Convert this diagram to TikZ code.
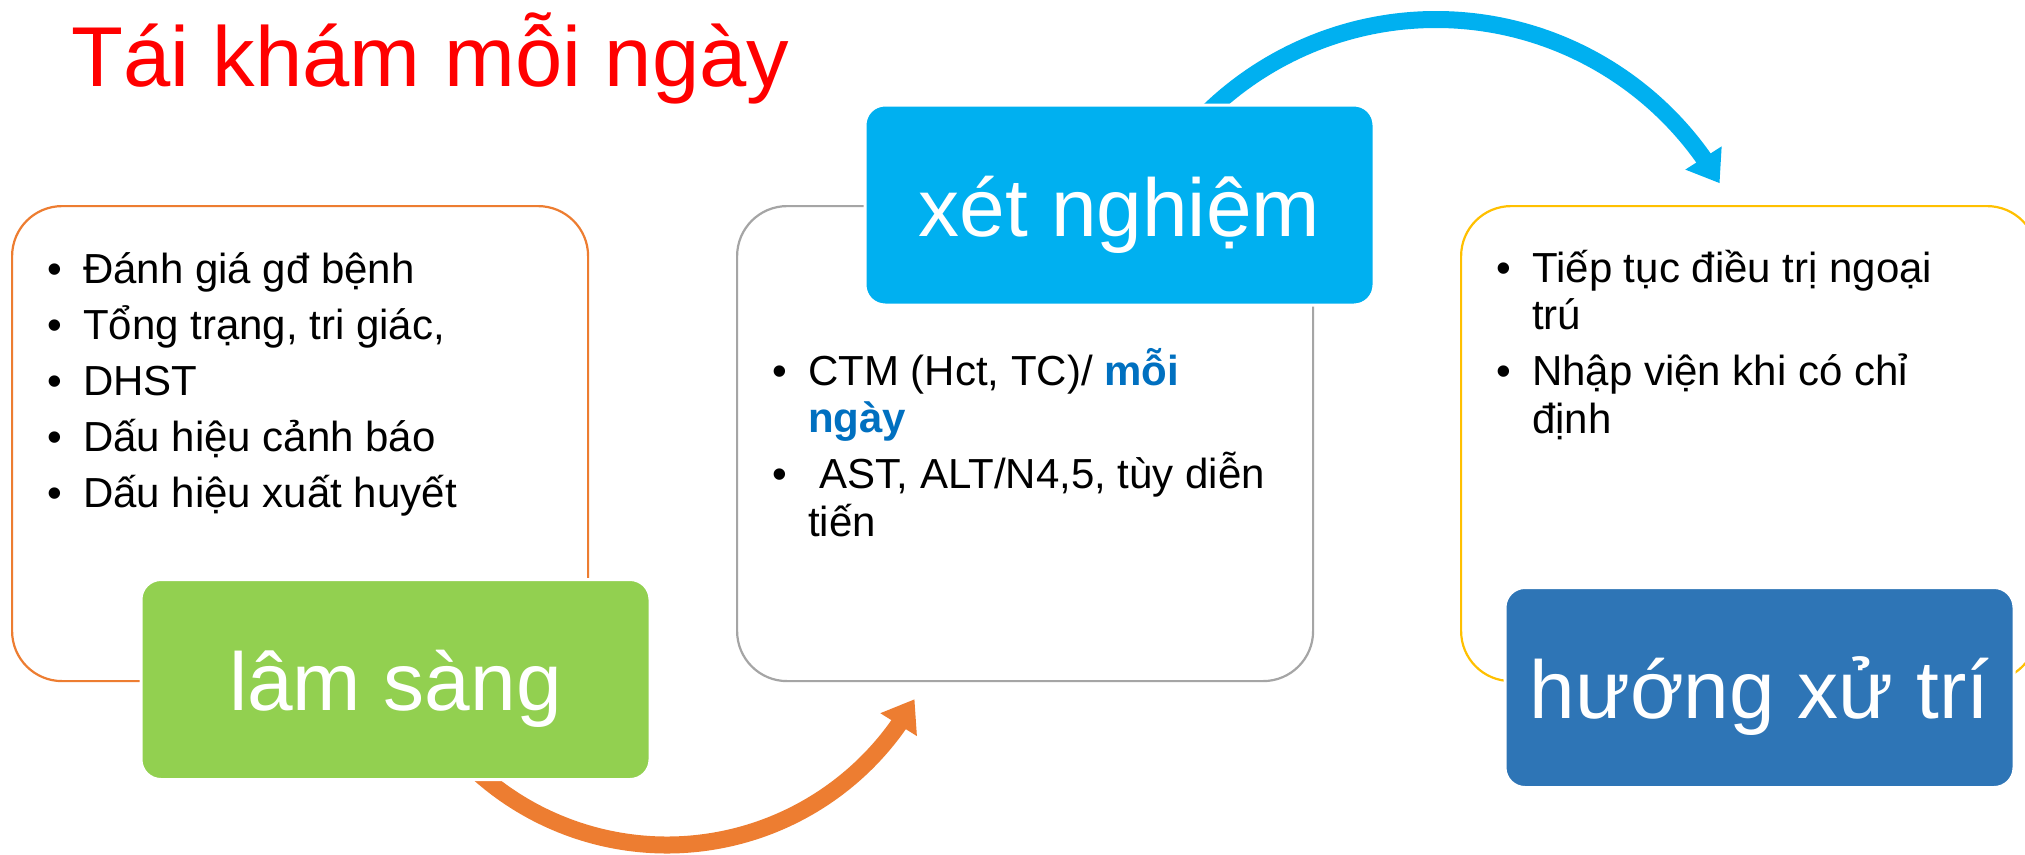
\documentclass[tikz,border=0pt]{standalone}
\usepackage{fontspec}
\setmainfont{Liberation Sans}
\usetikzlibrary{arrows.meta,bending,calc}

\definecolor{titlered}{HTML}{FF0000}
\definecolor{accentorange}{HTML}{ED7D31}
\definecolor{accentgreen}{HTML}{92D050}
\definecolor{accentgray}{HTML}{A5A5A5}
\definecolor{accentcyan}{HTML}{00B0F0}
\definecolor{accentgold}{HTML}{FFC000}
\definecolor{accentblue}{HTML}{2E75B6}
\definecolor{emphblue}{HTML}{0070C0}

% one bulleted paragraph with a hanging indent
\newcommand\bulletline[1]{\par\noindent\hangindent=36pt\hangafter=1\makebox[36pt][l]{•}#1\par}
\newcommand\listsetup{\fontsize{42}{47.5}\selectfont\lineskiplimit=-1000pt\lineskip=0pt\parskip=8.5pt}

\begin{document}
\begin{tikzpicture}[x=1pt,y=-1pt,
  panel/.style={line width=2.2pt, rounded corners=50pt, fill=white,
    minimum width=576pt, minimum height=475pt, inner sep=0pt, anchor=north west},
  header/.style={draw=white, line width=3pt, rounded corners=20pt,
    minimum width=509pt, minimum height=200pt, inner sep=0pt, text=white,
    text height=62pt, text depth=0pt, font=\fontsize{82}{90}\selectfont},
  items/.style={anchor=base west, inner sep=0pt},
  loop arrow/.style={line width=17pt, -{Triangle[length=30pt,width=41pt]}}]

\fill[white] (0,0) rectangle (2025,854);
\useasboundingbox (0,0) rectangle (2025,854);

% content panels
\node[panel, draw=accentorange] (clinicpanel) at (11,205) {};
\node[panel, draw=accentgray]   (labpanel)    at (736,205) {};
\node[panel, draw=accentgold]   (planpanel)   at (1460,205) {};

% curved arrows between the stages
\coordinate (orangehub) at (667,562);
\coordinate (cyanhub) at (1436,347);
\draw[loop arrow, draw=accentorange] ($(orangehub)+(140:283)$) arc[start angle=140, end angle=29, radius=283];
\draw[loop arrow, draw=accentcyan] ($(cyanhub)+(-140:327.5)$) arc[start angle=-140, end angle=-30, radius=327.5];

% stage headers
\node[header, fill=accentgreen] (clinic) at (395.5,679.5) {lâm sàng};
\node[header, fill=accentcyan]  (lab)    at (1119.5,205) {xét nghiệm};
\node[header, fill=accentblue]  (plan)   at (1759.5,687.5) {hướng xử trí};

% bullet lists
\node[items] (clinicitems) at (47,283) {\parbox[t]{520pt}{\listsetup
  \bulletline{Đánh giá gđ bệnh}
  \bulletline{Tổng trạng, tri giác,}
  \bulletline{DHST}
  \bulletline{Dấu hiệu cảnh báo}
  \bulletline{Dấu hiệu xuất huyết}}};

\node[items] (labitems) at (772,385) {\parbox[t]{520pt}{\listsetup
  \bulletline{CTM (Hct, TC)/ \textcolor{emphblue}{\bfseries mỗi}\newline\textcolor{emphblue}{\bfseries ngày}}
  \bulletline{\ AST, ALT/N4,5, tùy diễn\newline tiến}}};

\node[items] (planitems) at (1496,282) {\parbox[t]{520pt}{\listsetup
  \bulletline{Tiếp tục điều trị ngoại\newline trú}
  \bulletline{Nhập viện khi có chỉ\newline định}}};

% title
\node[anchor=base west, inner sep=0pt, text=titlered, font=\fontsize{85}{95}\selectfont] (heading) at (71,86) {Tái khám mỗi ngày};

\end{tikzpicture}
\end{document}
